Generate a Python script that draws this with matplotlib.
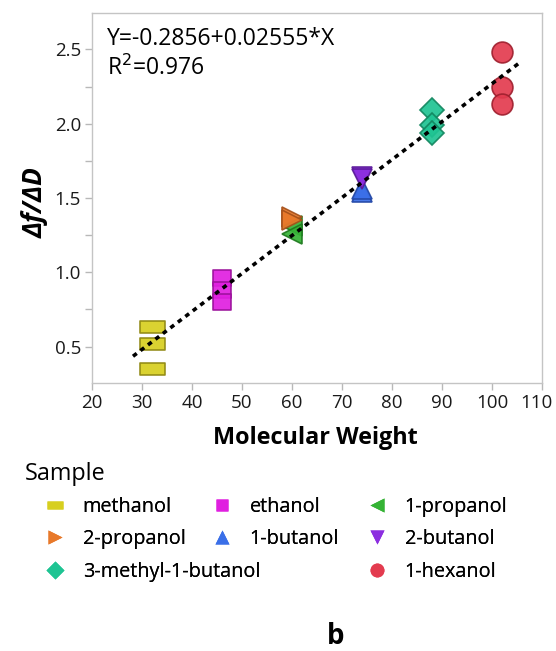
import numpy as np
import matplotlib.pyplot as plt
import matplotlib.transforms as mtransforms
from matplotlib.path import Path
from matplotlib.lines import Line2D

plt.rcParams['font.family'] = ['Open Sans', 'DejaVu Sans']

# data
samples = ['methanol', 'ethanol', '1-propanol', '2-propanol', '1-butanol',
           '2-butanol', '3-methyl-1-butanol', '1-hexanol']
mol_weight = [32, 46, 60, 60, 74, 74, 88, 102]
ratio = [
    [0.63, 0.515, 0.35],
    [0.96, 0.88, 0.80],
    [1.31, 1.26],
    [1.37, 1.35],
    [1.54, 1.56],
    [1.64, 1.63],
    [2.09, 1.99, 1.94],
    [2.48, 2.25, 2.135],
]
intercept = -0.2856
slope = 0.02555
r2 = 0.976
fit_x = [28.2, 105.6]

# styling per sample
wide_rect = Path([(-1, -0.5), (1, -0.5), (1, 0.5), (-1, 0.5), (-1, -0.5)],
                 [Path.MOVETO, Path.LINETO, Path.LINETO, Path.LINETO, Path.CLOSEPOLY])
sq_rect = Path([(-1, -0.93), (1, -0.93), (1, 0.93), (-1, 0.93), (-1, -0.93)],
               [Path.MOVETO, Path.LINETO, Path.LINETO, Path.LINETO, Path.CLOSEPOLY])
markers = [wide_rect, sq_rect, '<', '>', '^', 'v', 'D', 'o']
sizes = [18, 13, 15, 15, 15, 15, 12, 15]
fills = ['#d7cf1f', '#e01fe0', '#35b335', '#e8792a', '#3a6fe8', '#8c2ee0', '#1fc493', '#e33b4f']
edges = ['#8f8812', '#9a109a', '#1f7a1f', '#a5501a', '#2246a5', '#5b1a9a', '#12865f', '#a0202f']

fig = plt.figure(figsize=(5.56, 6.51), dpi=100)
ax = fig.add_axes([92 / 556, 1 - 383 / 651, 450 / 556, 370 / 651])

fx = np.array(fit_x)
ax.plot(fx, intercept + slope * fx, color='black', lw=2.6, ls=(0, (1.3, 1.3)), zorder=5)

for i, name in enumerate(samples):
    ys = ratio[i]
    ax.plot([mol_weight[i]] * len(ys), ys, ls='none', marker=markers[i], ms=sizes[i],
            mfc=fills[i], mec=edges[i], mew=1.2, alpha=0.92, zorder=3)

ax.set_xlim(20, 110)
ax.set_ylim(0.255, 2.745)
ax.set_xticks(np.arange(20, 111, 10))
ax.set_yticks([0.5, 1.0, 1.5, 2.0, 2.5])
ax.set_yticks([0.75, 1.25, 1.75, 2.25], minor=True)
ax.set_yticklabels(['0.5', '1.0', '1.5', '2.0', '2.5'])
for s in ax.spines.values():
    s.set_color('#c4c4c4')
    s.set_linewidth(1.0)
ax.tick_params(which='both', direction='out', length=5, width=1, color='#b8b8b8',
               labelsize=13.5, labelcolor='#1a1a1a', pad=3)
# keep the last x label inside the figure
last = ax.get_xticklabels()[-1]
last.set_transform(last.get_transform() + mtransforms.ScaledTranslation(-6 / 100, 0, fig.dpi_scale_trans))

ax.set_xlabel('Molecular Weight', fontsize=16.8, fontweight='bold')
ax.xaxis.set_label_coords(0.4967, -0.116)
ax.set_ylabel('Δf/ΔD', fontsize=19, fontweight='bold', fontstyle='italic', va='center')
ax.yaxis.set_label_coords(-0.1267, 0.4865)

ax.text(0.0333, 0.9135, 'Y=' + str(intercept) + '+' + str(slope) + '*X',
        transform=ax.transAxes, fontsize=16.5, va='baseline', ha='left')
ax.text(0.0333, 0.832, 'R$^2$=' + str(r2), transform=ax.transAxes, fontsize=16.5,
        va='baseline', ha='left')

# legend in three hand placed columns
fig.text(25 / 556, 1 - 480 / 651, 'Sample', fontsize=16.8, va='baseline', ha='left')
proxy_ms = [11, 9, 10, 10, 10, 10, 9, 10]
proxy_marker = [Path([(-1, -0.5), (1, -0.5), (1, 0.5), (-1, 0.5), (-1, -0.5)]), 's', '<', '>', '^', 'v', 'D', 'o']
handles = [Line2D([], [], ls='none', marker=proxy_marker[i], ms=proxy_ms[i], mfc=fills[i], mec='none')
           for i in range(len(samples))]
columns = [([0, 3, 6], 41), ([1, 4], 208), ([2, 5, 7], 363)]
for idx, x0 in columns:
    leg = fig.legend([handles[k] for k in idx], [samples[k] for k in idx],
                     loc='upper left', bbox_to_anchor=(x0 / 556, 1 - 497 / 651),
                     frameon=False, fontsize=14.3, borderpad=0, borderaxespad=0,
                     handlelength=1.4, handletextpad=0.7, labelspacing=0.62)
    fig.add_artist(leg)

fig.text(335.5 / 556, 1 - 636 / 651, 'b', fontsize=20, fontweight='bold', ha='center', va='center')

fig.savefig('out.png', dpi=100)
